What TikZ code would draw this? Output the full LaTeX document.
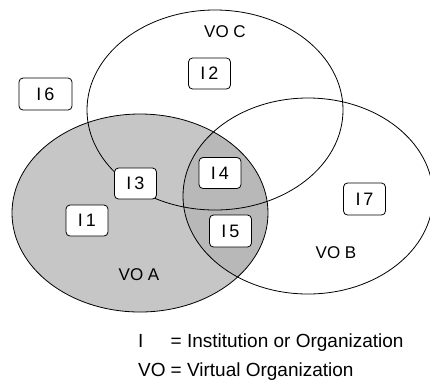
\documentclass[tikz,border=0pt]{standalone}
\usepackage{fontspec}
\setmainfont{Liberation Sans}
\begin{document}
\begin{tikzpicture}[x=1pt,y=-1pt,
  outline/.style={draw=black,line width=0.8pt},
  inst/.style={draw=black,fill=white,line width=0.8pt,rounded corners=4pt,
    minimum width=42pt,minimum height=31pt,inner sep=0pt,
    font=\fontsize{18}{18}\selectfont},
  volabel/.style={inner sep=0pt,font=\fontsize{17}{17}\selectfont},
  legend/.style={inner sep=0pt,font=\fontsize{19}{29}\selectfont,anchor=west}]
\useasboundingbox (0,0) rectangle (430,384);
% shaded organisation A and its overlap with B
\fill[gray!45] (140,213) ellipse [x radius=128pt,y radius=99pt];
\begin{scope}
  \clip (140,213) ellipse [x radius=128pt,y radius=99pt];
  \fill[gray!56] (308,196) ellipse [x radius=125pt,y radius=98pt];
\end{scope}
% outlines of the three organisations
\draw[outline] (140,213) ellipse [x radius=128pt,y radius=99pt];
\draw[outline] (308,196) ellipse [x radius=125pt,y radius=98pt];
\draw[outline] (215,110) ellipse [x radius=128pt,y radius=100pt];
% organisation names
\node[volabel] (voc) at (225,32) {VO C};
\node[volabel] (vob) at (336,253) {VO B};
\node[volabel] (voa) at (139,275) {VO A};
% institutions
\node[inst] (i2) at (209.5,73.5) {I\,2};
\node[inst,minimum width=53pt,minimum height=32pt] (i6) at (45.5,94) {I\,6};
\node[inst] (i3) at (135.5,183.5) {I\,3};
\node[inst] (i4) at (220,173) {I\,4};
\node[inst,minimum height=32pt] (i5) at (230.5,231) {I\,5};
\node[inst] (i1) at (87,220.5) {I\,1};
\node[inst,minimum height=32pt] (i7) at (364.5,199) {I\,7};
% key
\node[legend] (key) at (138,356) {\begin{tabular}{@{}l@{\hspace{5pt}}l@{}}
I & = Institution or Organization\\
VO & = Virtual Organization
\end{tabular}};
\end{tikzpicture}
\end{document}
